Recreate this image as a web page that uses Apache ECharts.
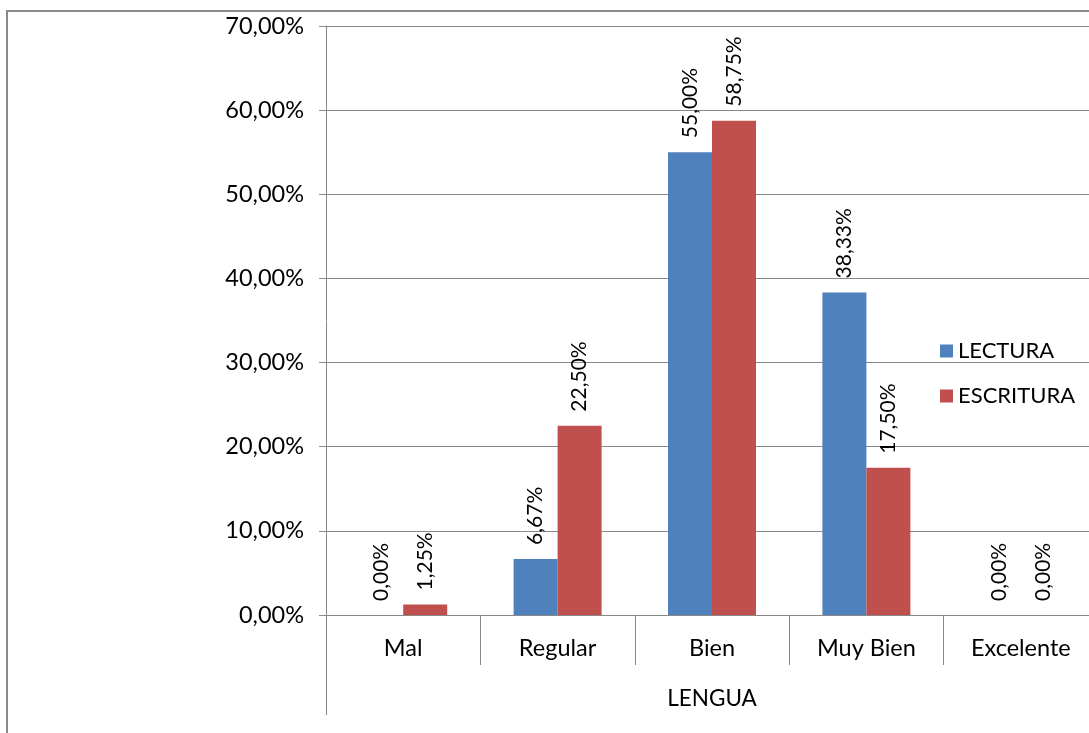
<!DOCTYPE html>
<html><head><meta charset="utf-8">
<script src="https://cdn.jsdelivr.net/npm/echarts@6/dist/echarts.min.js"></script>
<style>html,body{margin:0;padding:0;background:#fff}#c{width:1089px;height:733px}</style>
</head><body><div id="c"></div>
<script>
const categories = ['Mal', 'Regular', 'Bien', 'Muy Bien', 'Excelente'];
const lectura = [0.00, 6.67, 55.00, 38.33, 0.00];
const escritura = [1.25, 22.50, 58.75, 17.50, 0.00];
const yTicks = [0, 10, 20, 30, 40, 50, 60, 70];
const axisTitle = 'LENGUA';

const FONT = 'Lato';
const fmt = v => v.toFixed(2).replace('.', ',') + '%';
const chart = echarts.init(document.getElementById('c'));
const lbl = {
  show: true, position: 'top', rotate: 90, align: 'left', verticalAlign: 'middle',
  distance: 14, fontFamily: FONT, fontSize: 21, color: '#000',
  formatter: p => fmt(p.value)
};
chart.setOption({
  animation: false,
  textStyle: { fontFamily: FONT },
  graphic: [
    { type: 'rect', shape: { x: 7, y: 11, width: 1200, height: 800 }, style: { fill: 'none', stroke: '#8a8a8a', lineWidth: 2 }, silent: true },
    { type: 'line', shape: { x1: 326.5, y1: 615, x2: 326.5, y2: 715 }, style: { stroke: '#888', lineWidth: 1 }, silent: true }
  ],
  grid: { left: 326, top: 26, width: 772, height: 589, outerBoundsMode: 'none', containLabel: false },
  legend: {
    orient: 'vertical', left: 935, top: 335, itemWidth: 13, itemHeight: 13, itemGap: 23,
    icon: 'rect', textStyle: { fontFamily: FONT, fontSize: 22, color: '#000' },
    data: ['LECTURA', 'ESCRITURA']
  },
  xAxis: {
    type: 'category', data: categories,
    name: axisTitle, nameLocation: 'middle', nameGap: 72,
    nameTextStyle: { fontFamily: FONT, fontSize: 22.5, color: '#000' },
    axisLine: { lineStyle: { color: '#888' } },
    axisTick: { show: true, length: 50, interval: 0, lineStyle: { color: '#888' } },
    axisLabel: { fontFamily: FONT, fontSize: 23.5, color: '#000', margin: 21, interval: 0 }
  },
  yAxis: {
    type: 'value', min: yTicks[0], max: yTicks[yTicks.length - 1], interval: 10,
    axisLine: { show: true, lineStyle: { color: '#888' } },
    axisTick: { show: true, length: 7, lineStyle: { color: '#888' } },
    splitLine: { lineStyle: { color: '#888' } },
    axisLabel: { fontFamily: FONT, fontSize: 23.5, color: '#000', margin: 22, formatter: v => fmt(v) }
  },
  series: [
    { name: 'LECTURA', type: 'bar', data: lectura, barWidth: 44, barGap: '0%', itemStyle: { color: '#4F81BD' }, label: lbl },
    { name: 'ESCRITURA', type: 'bar', data: escritura, barWidth: 44, barGap: '0%', itemStyle: { color: '#C0504D' }, label: lbl }
  ]
});
</script></body></html>
